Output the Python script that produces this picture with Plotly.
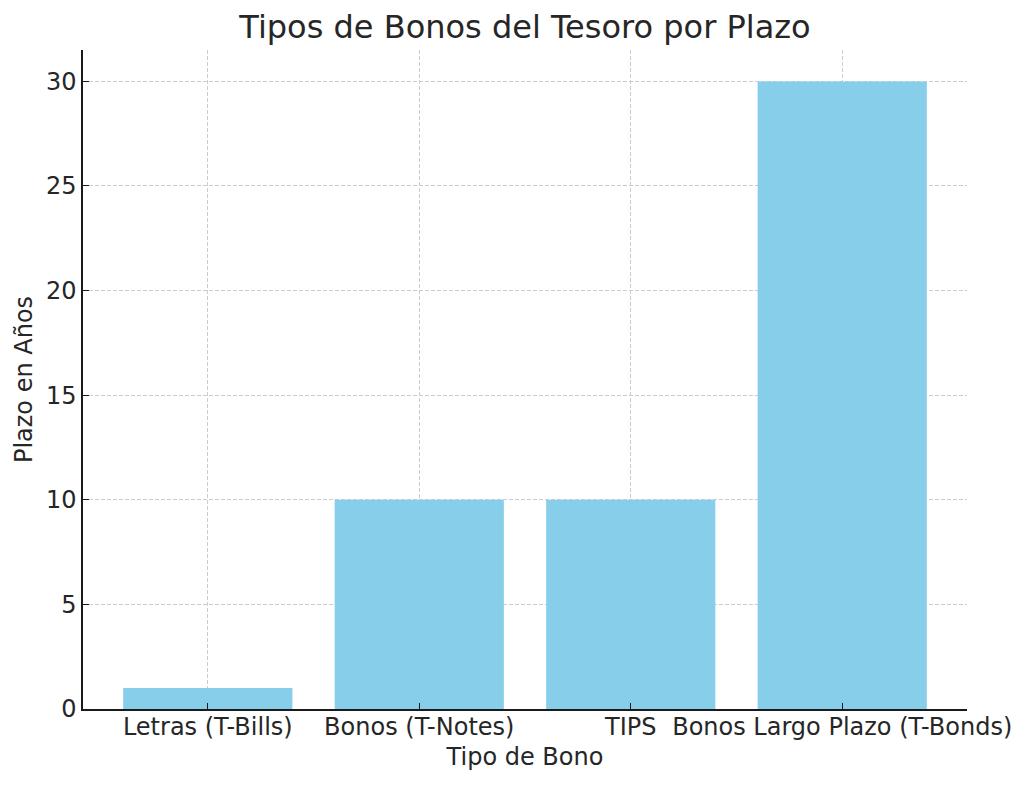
import plotly.graph_objects as go

# valores
tipos_bono = ["Letras (T-Bills)", "Bonos (T-Notes)", "TIPS", "Bonos Largo Plazo (T-Bonds)"]
plazo_anios = [1, 10, 10, 30]
ticks_y = [0, 5, 10, 15, 20, 25, 30]

font_family = "DejaVu Sans"
text_color = "#262626"

fig = go.Figure(
    go.Bar(
        x=tipos_bono,
        y=plazo_anios,
        marker=dict(color="#87CEEB", line=dict(width=0)),
    )
)

# la pagina tiene 8px de margen propio, se compensa aqui
fig.update_layout(
    width=1024,
    height=785,
    margin=dict(l=75, r=65, t=42, b=84),
    paper_bgcolor="white",
    plot_bgcolor="white",
    bargap=0.2,
    showlegend=False,
    font=dict(family=font_family, color=text_color, size=24),
    title=dict(
        text="Tipos de Bonos del Tesoro por Plazo",
        font=dict(family=font_family, size=32, color=text_color),
        x=0.5,
        xref="paper",
        xanchor="center",
        y=1,
        yref="paper",
        yanchor="bottom",
        pad=dict(b=12),
    ),
)

fig.update_xaxes(
    range=[-0.59, 3.59],
    showline=True,
    linecolor="#1a1a1a",
    linewidth=1.5,
    ticks="inside",
    ticklen=6,
    tickwidth=1.2,
    tickcolor="#1a1a1a",
    showgrid=True,
    gridcolor="#cccccc",
    griddash="4px,2px",
    gridwidth=1,
    layer="above traces",
    tickfont=dict(size=24),
    ticklabelstandoff=-5,
    title=dict(text="Tipo de Bono", font=dict(size=24), standoff=9),
)

fig.update_yaxes(
    range=[0, 31.5],
    tickmode="array",
    tickvals=ticks_y,
    showline=True,
    linecolor="#1a1a1a",
    linewidth=1.5,
    ticks="inside",
    ticklen=6,
    tickwidth=1.2,
    tickcolor="#1a1a1a",
    showgrid=True,
    gridcolor="#cccccc",
    griddash="4px,2px",
    gridwidth=1,
    zeroline=False,
    layer="above traces",
    tickfont=dict(size=24),
    title=dict(text="Plazo en Años", font=dict(size=24), standoff=7),
)

fig.write_html("out.html")
